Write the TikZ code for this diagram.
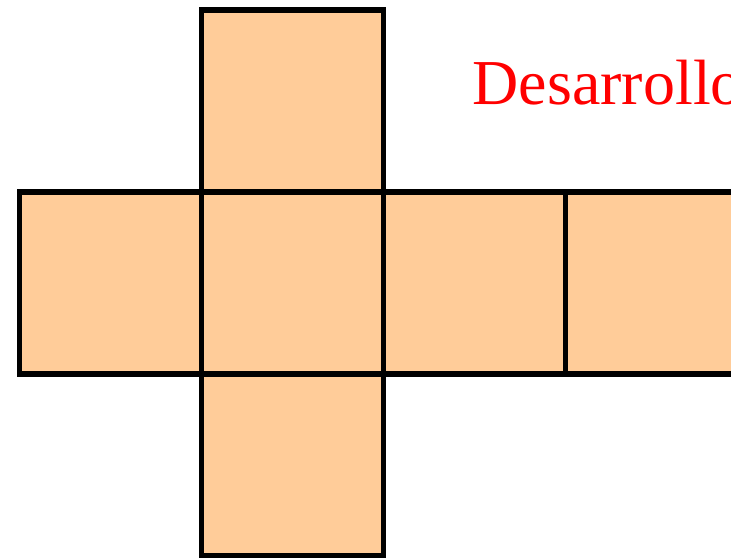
\documentclass[tikz,border=0pt]{standalone}
\usepackage{fontspec}
\setmainfont{Liberation Serif}
\definecolor{facefill}{RGB}{255,204,153}
\tikzset{
  face/.style={draw=black, fill=facefill, line width=5.5pt, minimum width=182pt, minimum height=182pt, inner sep=0pt, outer sep=0pt},
  title/.style={text=red, font=\fontsize{64}{72}\selectfont, inner sep=0pt, anchor=base west}
}
\begin{document}
\begin{tikzpicture}[x=1pt,y=-1pt]
\clip (0,0) rectangle (731,557);
\node[face] (top) at (292.5,101) {};
\node[face] (left) at (110.5,283) {};
\node[face] (center) at (292.5,283) {};
\node[face] (right) at (474.5,283) {};
\node[face] (back) at (656.5,283) {};
\node[face] (bottom) at (292.5,465) {};
\node[title] (label) at (472.5,104.3) {Desarrollo};
\end{tikzpicture}
\end{document}
